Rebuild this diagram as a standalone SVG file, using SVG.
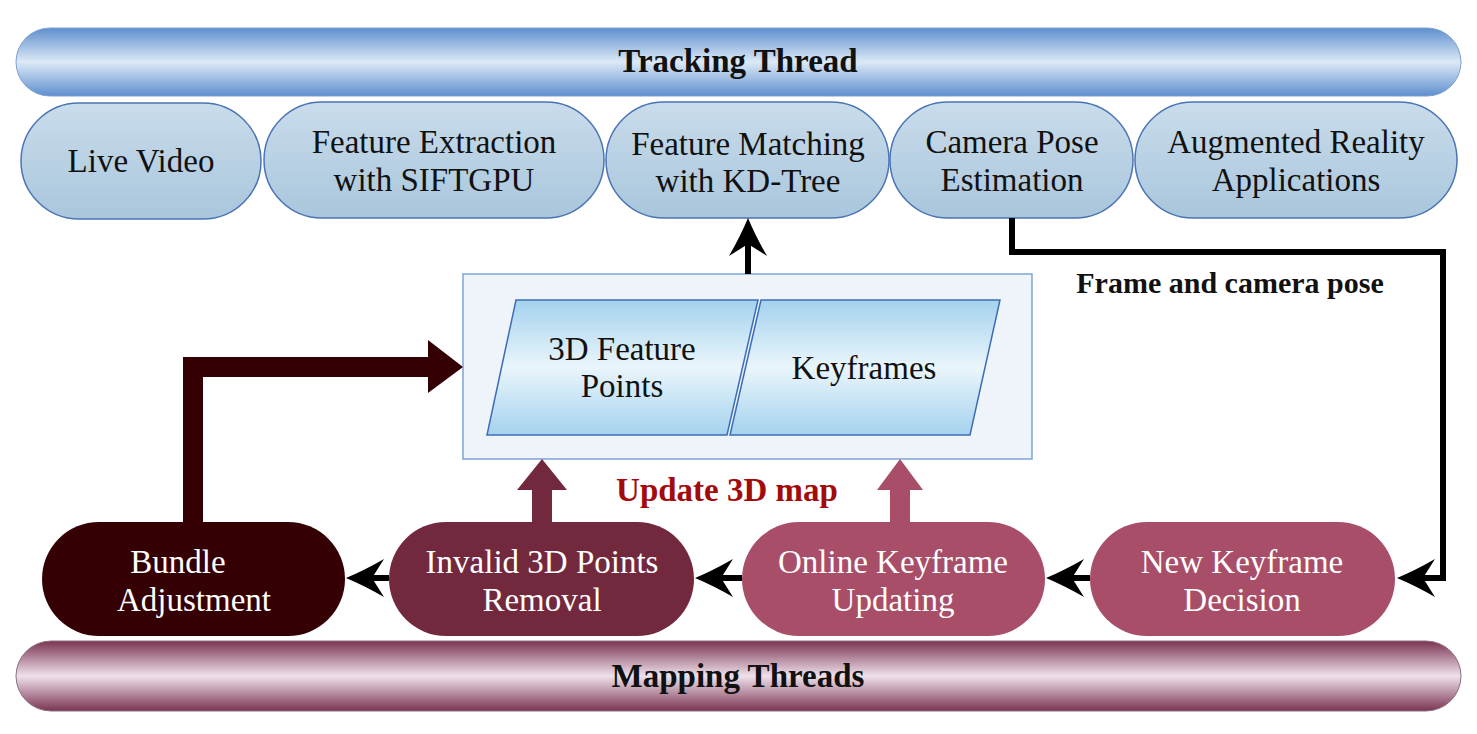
<svg xmlns="http://www.w3.org/2000/svg" width="1477" height="734" viewBox="0 0 1477 734">
<defs>
<linearGradient id="gTrack" x1="0" y1="0" x2="0" y2="1">
<stop offset="0" stop-color="#5e8fce"/><stop offset="0.5" stop-color="#dce9f6"/><stop offset="1" stop-color="#5e8fce"/>
</linearGradient>
<linearGradient id="gMap" x1="0" y1="0" x2="0" y2="1">
<stop offset="0" stop-color="#7a3452"/><stop offset="0.5" stop-color="#efe1eb"/><stop offset="1" stop-color="#7a3452"/>
</linearGradient>
<linearGradient id="gNode" x1="0" y1="0" x2="0" y2="1">
<stop offset="0" stop-color="#c9dceb"/><stop offset="1" stop-color="#a9c6dc"/>
</linearGradient>
<linearGradient id="gPara" x1="0" y1="0" x2="0" y2="1">
<stop offset="0" stop-color="#a4d2ee"/><stop offset="0.5" stop-color="#eaf5fb"/><stop offset="1" stop-color="#a4d2ee"/>
</linearGradient>
<marker id="ah" markerUnits="userSpaceOnUse" viewBox="0 -20 38 40" refX="12" refY="0" markerWidth="38" markerHeight="40" orient="auto">
<path d="M0,-19 Q20,-7.5 38,0 Q20,7.5 0,19 L12,0 Z" fill="#000"/>
</marker>
<style>
.t{font-family:"Liberation Serif","Times New Roman",serif;font-size:33px;fill:#111;text-anchor:middle}
.w{fill:#fff}
.b{font-weight:bold}
.top{fill:url(#gNode);stroke:#4a74b4;stroke-width:1.5}
.para{fill:url(#gPara);stroke:#3d6db5;stroke-width:1.5}
.ln{fill:none;stroke:#000;stroke-width:6}
</style>
</defs>

<g id="tracking-thread">
<rect x="16" y="28" width="1445" height="68" rx="34" fill="url(#gTrack)" stroke="#7fa0d0" stroke-width="1"/>
<text class="t b" x="738" y="72">Tracking Thread</text>
</g>

<g id="live-video">
<rect class="top" x="21" y="103" width="240" height="116" rx="58"/>
<text class="t" x="141" y="172">Live Video</text>
</g>
<g id="feature-extraction">
<rect class="top" x="264" y="102" width="340" height="116" rx="58"/>
<text class="t" x="434" y="153">Feature Extraction</text>
<text class="t" x="434" y="191">with SIFTGPU</text>
</g>
<g id="feature-matching">
<rect class="top" x="606" y="102" width="283" height="116" rx="58"/>
<text class="t" x="748" y="155">Feature Matching</text>
<text class="t" x="748" y="192">with KD-Tree</text>
</g>
<g id="camera-pose">
<rect class="top" x="890" y="102" width="243" height="116" rx="58"/>
<text class="t" x="1012" y="153">Camera Pose</text>
<text class="t" x="1012" y="191">Estimation</text>
</g>
<g id="ar-apps">
<rect class="top" x="1135" y="102" width="322" height="116" rx="58"/>
<text class="t" x="1296" y="153">Augmented Reality</text>
<text class="t" x="1296" y="191">Applications</text>
</g>

<g id="map">
<rect x="463" y="274" width="569" height="185" fill="#eef4fa" stroke="#7ea4d6" stroke-width="1.5"/>
<g id="feature-points">
<polygon class="para" points="516,300 758,300 727,435 487,435"/>
<text class="t" x="622" y="360">3D Feature</text>
<text class="t" x="622" y="397">Points</text>
</g>
<g id="keyframes">
<polygon class="para" points="761,300 1000,300 970,435 730,435"/>
<text class="t" x="864" y="379">Keyframes</text>
</g>
</g>

<g id="bundle-adjustment">
<rect x="42" y="522" width="303" height="114" rx="57" fill="#350004"/>
<text class="t w" x="178" y="573">Bundle</text>
<text class="t w" x="194" y="611">Adjustment</text>
</g>
<g id="invalid-removal">
<rect x="389" y="522" width="305" height="114" rx="57" fill="#73293d"/>
<text class="t w" x="542" y="573">Invalid 3D Points</text>
<text class="t w" x="542" y="611">Removal</text>
</g>
<g id="online-keyframe">
<rect x="742" y="522" width="303" height="114" rx="57" fill="#a84e69"/>
<text class="t w" x="893" y="573">Online Keyframe</text>
<text class="t w" x="893" y="611">Updating</text>
</g>
<g id="new-keyframe">
<rect x="1090" y="522" width="305" height="114" rx="57" fill="#a84e69"/>
<text class="t w" x="1242" y="573">New Keyframe</text>
<text class="t w" x="1242" y="611">Decision</text>
</g>

<g id="mapping-threads">
<rect x="16" y="641" width="1445" height="70" rx="35" fill="url(#gMap)" stroke="#8a7080" stroke-width="1"/>
<text class="t b" x="738" y="687">Mapping Threads</text>
</g>

<g id="connectors">
<line class="ln" x1="748" y1="274" x2="748" y2="244" marker-end="url(#ah)"/>
<polyline class="ln" points="1012,218 1012,252 1443,252 1443,578 1423,578" marker-end="url(#ah)"/>
<line class="ln" x1="1090" y1="578" x2="1072" y2="578" marker-end="url(#ah)"/>
<line class="ln" x1="742" y1="578" x2="721" y2="578" marker-end="url(#ah)"/>
<line class="ln" x1="389" y1="578" x2="372" y2="578" marker-end="url(#ah)"/>
<path d="M183,522 L183,357 L428,357 L428,340 L463,367 L428,393 L428,377 L203,377 L203,522 Z" fill="#350004"/>
<path d="M532,522 L532,490 L517,490 L542,459 L567,490 L552,490 L552,522 Z" fill="#73293d"/>
<path d="M890,522 L890,490 L877,490 L900,459 L923,490 L910,490 L910,522 Z" fill="#a84e69"/>
<text class="t b" x="1230" y="293" style="font-size:30px">Frame and camera pose</text>
<text class="t b" x="727" y="501" style="fill:#a30a0a">Update 3D map</text>
</g>
</svg>
